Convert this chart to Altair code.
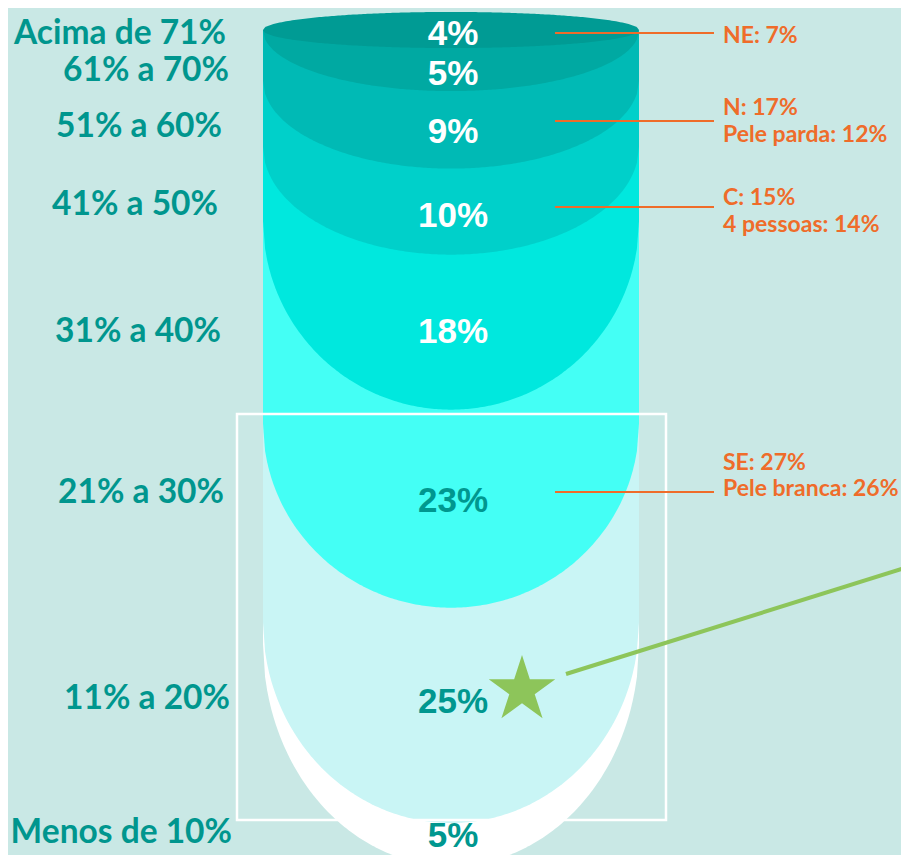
import altair as alt
import pandas as pd
import numpy as np

# ---------------- data ----------------
faixas = ["Acima de 71%", "61% a 70%", "51% a 60%", "41% a 50%",
          "31% a 40%", "21% a 30%", "11% a 20%", "Menos de 10%"]
valores = [4, 5, 9, 10, 18, 23, 25, 5]
rotulos = ["4%", "5%", "9%", "10%", "18%", "23%", "25%", "5%"]

destaque_camada = [0, 2, 3, 5]
destaque_textos = [["NE: 7%"],
                   ["N: 17%", "Pele parda: 12%"],
                   ["C: 15%", "4 pessoas: 14%"],
                   ["SE: 27%", "Pele branca: 26%"]]

# ---------------- style ----------------
cores = ["#009b94", "#00a9a2", "#00bab5", "#00d0ca",
         "#00e8de", "#44fff5", "#c9f5f5", "#ffffff"]
cor_valor = ["#ffffff"] * 5 + ["#00978f"] * 3
profundidade = [None, 61, 88, 108, 189, 184, 201, 222]   # depth of each rounded bottom (px)
nudge_valor = [14.2, 15.4, 13.2, 15.4, 10.8, 3.3, -2.3, 2.5]
nudge_faixa = [12.7, 11.0, 7.2, 3.4, 9.8, -5.7, -6.3, -1.5]
fim_faixa = [226, 229, 222, 218, 221, 224, 230, 232]
nudge_linha = [2.2, -8.8, -4.6, -16.7]
nudge_texto = [10, -6, -2, -22]

BG = "#c9e8e5"
TEAL = "#00968e"
ORANGE = "#ef6c2a"
GREEN = "#8dc55a"

W, H = 893, 847
xs = alt.Scale(domain=[8, 8 + W], nice=False, zero=False)
ys = alt.Scale(domain=[8 + H, 8], nice=False, zero=False)

Y0, K = 13.6, 8.61          # stack top and px per percentage point
TOP = 30                    # tube mouth
CX, RX = 451, 188           # tube centre and half width

cum = np.cumsum(valores)
bottom = Y0 + K * cum
mid = Y0 + K * (cum - np.array(valores) / 2)

xx = np.linspace(CX - RX, CX + RX, 181)
s = np.sqrt(np.clip(1 - ((xx - CX) / RX) ** 2, 0, None))


def X(f):
    return alt.X(f, type="quantitative", scale=xs, axis=None)


def Y(f):
    return alt.Y(f, type="quantitative", scale=ys, axis=None)


layers = []
# tube layers, back to front
for i in reversed(range(len(valores))):
    if i == 0:
        ry = bottom[0] - TOP
        df = pd.DataFrame({"x": xx, "y": TOP + ry * s, "y2": TOP - ry * s})
    else:
        ry = profundidade[i]
        df = pd.DataFrame({"x": xx, "y": bottom[i] - ry + ry * s, "y2": TOP})
    layers.append(
        alt.Chart(df).mark_area(color=cores[i], opacity=1, interpolate="linear")
        .encode(x=X("x"), y=Y("y"), y2="y2")
    )

# value labels inside the tube
dv = pd.DataFrame({"x": [453] * 8, "y": mid + np.array(nudge_valor),
                   "t": rotulos, "c": cor_valor})
layers.append(
    alt.Chart(dv).mark_text(font="Liberation Sans", fontWeight="bold", fontSize=35,
                            align="center", baseline="alphabetic")
    .encode(x=X("x"), y=Y("y"), text="t:N", color=alt.Color("c:N", scale=None))
)

# category labels on the left
df_f = pd.DataFrame({"x": fim_faixa, "y": mid + np.array(nudge_faixa), "t": faixas})
layers.append(
    alt.Chart(df_f).mark_text(font="Lato", fontWeight="bold", fontSize=33.5, color=TEAL,
                              align="right", baseline="alphabetic")
    .encode(x=X("x"), y=Y("y"), text="t:N")
)

# highlight box
box = pd.DataFrame({"x": [237], "x2": [666], "y": [414], "y2": [820]})
layers.append(
    alt.Chart(box).mark_rect(fill=None, filled=False, stroke="white", strokeWidth=2.5)
    .encode(x=X("x"), x2="x2", y=Y("y"), y2="y2")
)

# orange call-outs
rows_l, rows_t = [], []
for j, camada in enumerate(destaque_camada):
    ly = mid[camada] + nudge_linha[j]
    rows_l.append({"x": 555, "x2": 714, "y": ly})
    for n, t in enumerate(destaque_textos[j]):
        rows_t.append({"x": 723, "y": ly + nudge_texto[j] + 26.5 * n, "t": t})
layers.append(
    alt.Chart(pd.DataFrame(rows_l)).mark_rule(color=ORANGE, strokeWidth=2)
    .encode(x=X("x"), x2="x2", y=Y("y"))
)
layers.append(
    alt.Chart(pd.DataFrame(rows_t)).mark_text(font="Lato", fontWeight="bold", fontSize=23,
                                              color=ORANGE, align="left", baseline="alphabetic")
    .encode(x=X("x"), y=Y("y"), text="t:N")
)

# green pointer line and star
layers.append(
    alt.Chart(pd.DataFrame({"x": [566], "y": [674], "x2": [940], "y2": [557]}))
    .mark_rule(color=GREEN, strokeWidth=4)
    .encode(x=X("x"), y=Y("y"), x2="x2", y2="y2")
)
ang = -np.pi / 2 + np.arange(10) * np.pi / 5
rad = np.where(np.arange(10) % 2 == 0, 1.0, 0.382)
star_path = "M" + " L".join(f"{r*np.cos(a):.4f},{r*np.sin(a):.4f}" for r, a in zip(rad, ang)) + " Z"
layers.append(
    alt.Chart(pd.DataFrame({"x": [522], "y": [690]}))
    .mark_point(shape=star_path, size=4900, filled=True, color=GREEN, opacity=1, strokeWidth=0)
    .encode(x=X("x"), y=Y("y"))
)

chart = alt.layer(*layers).properties(
    width=W, height=H, padding=0,
    autosize=alt.AutoSizeParams(type="none"),
    background=BG,
).configure_view(stroke=None)

chart.save("out.html", embed_options={"renderer": "svg", "actions": False})
